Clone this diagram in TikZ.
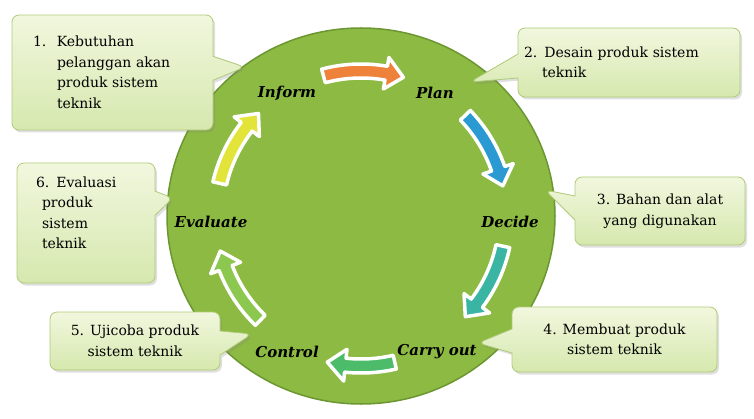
\documentclass[tikz,border=0pt]{standalone}
\usepackage{fontspec}
\setmainfont{DejaVu Serif}
\usetikzlibrary{calc,shapes.callouts,shadows}
\definecolor{disc}{HTML}{8DBA43}
\definecolor{discedge}{HTML}{6C9632}
\definecolor{notetop}{HTML}{F1F7DE}
\definecolor{notebot}{HTML}{D6E8AE}
\definecolor{noteedge}{HTML}{AFCB78}
\definecolor{arrA}{HTML}{EE823A}
\definecolor{arrB}{HTML}{2C9AD2}
\definecolor{arrC}{HTML}{3AB5A4}
\definecolor{arrD}{HTML}{4CBC6A}
\definecolor{arrE}{HTML}{8CC850}
\definecolor{arrF}{HTML}{E2E43A}
\newcommand{\notefont}{\fontsize{14}{20.5}\selectfont}
\tikzset{note/.style={rectangle callout,rounded corners=7pt,draw=noteedge,line width=0.8pt,
    top color=notetop,bottom color=notebot,callout pointer width=24pt,inner sep=0pt,
    drop shadow={opacity=0.25,shadow xshift=2pt,shadow yshift=-2.5pt},font=\notefont,text=black},
  stage/.style={font=\bfseries\itshape\fontsize{15}{18}\selectfont,text=black},
  ring arrow/.style={draw=white,line width=3.5pt,line join=round}}

\begin{document}
\begin{tikzpicture}[x=1pt,y=1pt]
\useasboundingbox (0,0) rectangle (754,418);
\coordinate (C) at (361,202);
% the disc
\draw[fill=disc,draw=discedge,line width=1.5pt] (C) ellipse [x radius=194,y radius=188];
% arrows round the cycle
\foreach \col/\a/\s/\r in {arrA/89/16/145,arrB/28/16/145,arrC/-28/16/145,arrD/-90/13/150,arrE/-150/16/145,arrF/151/16/145}{
  \filldraw[ring arrow,fill=\col] ($(C)+(\a+\s:\r+7)$) arc[start angle=\a+\s,end angle=\a-\s+7,radius=\r+7]
    -- ($(C)+(\a-\s+7:\r+16)$) -- ($(C)+(\a-\s:\r)$) -- ($(C)+(\a-\s+7:\r-16)$) -- ($(C)+(\a-\s+7:\r-7)$)
    arc[start angle=\a-\s+7,end angle=\a+\s,radius=\r-7] -- cycle;
}
% stages
\node[stage] (inform) at (287,325) {Inform};
\node[stage] (plan) at (435,325) {Plan};
\node[stage] (decide) at (510,196) {Decide};
\node[stage] (carry) at (437,66) {Carry out};
\node[stage] (control) at (287,66) {Control};
\node[stage] (evaluate) at (211,196) {Evaluate};
% callouts
\node[note,minimum width=201,minimum height=115,text width=159,align=left,
  callout absolute pointer={(245,351)}] (n1) at (112.5,345.5)
  {1.\hspace{10.5pt}Kebutuhan\\\hspace*{24pt}pelanggan akan\\\hspace*{24pt}produk sistem\\\hspace*{24pt}teknik};
\node[note,minimum width=222,minimum height=69,text width=210,align=left,
  callout absolute pointer={(470,336)}] (n2) at (629,355.5)
  {2. Desain produk sistem\\\hspace*{18pt}teknik};
\node[note,minimum width=170,minimum height=68,align=center,
  callout absolute pointer={(545,228)}] (n3) at (660,207)
  {3. Bahan dan alat\\yang digunakan};
\node[note,minimum width=205,minimum height=65,align=center,
  callout absolute pointer={(478,75)}] (n4) at (614.5,78.5)
  {4. Membuat produk\\sistem teknik};
\node[note,minimum width=170,minimum height=58,align=center,
  callout absolute pointer={(252,84)}] (n5) at (135,77)
  {5. Ujicoba produk\\sistem teknik};
\node[note,minimum width=138,minimum height=120,text width=100,align=left,
  callout absolute pointer={(173,220)}] (n6) at (86,195)
  {6. Evaluasi\\\hspace*{6pt}produk\\\hspace*{6pt}sistem\\\hspace*{6pt}teknik\\\mbox{}};
\end{tikzpicture}
\end{document}
